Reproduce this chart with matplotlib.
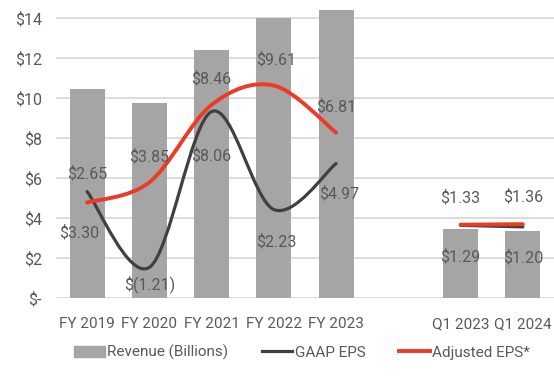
import numpy as np
import matplotlib
matplotlib.use("Agg")
import matplotlib.pyplot as plt
from matplotlib.path import Path
from matplotlib.patches import PathPatch, Patch
from matplotlib.lines import Line2D

plt.rcParams['font.family'] = ['Roboto', 'DejaVu Sans']

categories = ['FY 2019', 'FY 2020', 'FY 2021', 'FY 2022', 'FY 2023', '', 'Q1 2023', 'Q1 2024']
revenue = [10.48, 9.78, 12.42, 14.0, 14.4, np.nan, 3.45, 3.37]
gaap_eps = [3.30, -1.21, 8.06, 2.23, 4.97, np.nan, 1.29, 1.20]
adj_eps = [2.65, 3.85, 8.46, 9.61, 6.81, np.nan, 1.33, 1.36]

gaap_labels = ['$3.30', '$(1.21)', '$8.06', '$2.23', '$4.97', '', '$1.29', '$1.20']
adj_labels = ['$2.65', '$3.85', '$8.46', '$9.61', '$6.81', '', '$1.33', '$1.36']

# label offsets in pixels (dx, dy) from each point
gaap_offsets = [(-8, -41), (0, -17), (0, -44), (2, -32), (3, -30), None, (0, -31), (0, -31)]
adj_offsets = [(0, 29), (0, 26), (0, 26), (2, 26), (0, 26), None, (0, 27), (0, 27)]

BAR = '#A5A5A5'
GAAP = '#404040'
ADJ = '#EE3A24'
TXT = '#595959'
GRID = '#D9D9D9'
FS = 11.5
FS_SMALL = 11


def smooth_path(xs, ys):
    # Catmull-Rom style cubic Bezier through the points
    verts = [(xs[0], ys[0])]
    codes = [Path.MOVETO]
    n = len(xs)
    for i in range(n - 1):
        p0 = np.array([xs[max(i - 1, 0)], ys[max(i - 1, 0)]])
        p1 = np.array([xs[i], ys[i]])
        p2 = np.array([xs[i + 1], ys[i + 1]])
        p3 = np.array([xs[min(i + 2, n - 1)], ys[min(i + 2, n - 1)]])
        c1 = p1 + (p2 - p0) / 6
        c2 = p2 - (p3 - p1) / 6
        verts += [tuple(c1), tuple(c2), tuple(p2)]
        codes += [Path.CURVE4] * 3
    return Path(verts, codes)


def draw_series(ax, values, color, lw, z):
    x = np.arange(len(values))
    v = np.array(values, dtype=float)
    seg = []
    for i in range(len(v) + 1):
        if i < len(v) and not np.isnan(v[i]):
            seg.append(i)
        else:
            if len(seg) > 1:
                p = smooth_path(x[seg], v[seg])
                ax.add_patch(PathPatch(p, facecolor='none', edgecolor=color, lw=lw,
                                       capstyle='round', zorder=z))
            seg = []


fig = plt.figure(figsize=(5.54, 3.76), dpi=100)
ax = fig.add_axes([0.101, 0.208, 0.899, 0.767])
x = np.arange(len(categories))

ax.bar(x, revenue, width=0.56, color=BAR, zorder=2)
ax.set_xlim(-0.5, len(categories) - 0.5)
ax.set_ylim(0, 14.45)
ax.set_yticks(range(0, 15, 2))
ax.set_yticklabels(['$-'] + ['$%d' % v for v in range(2, 15, 2)])
ax.set_xticks([i for i in x if categories[i]])
ax.set_xticklabels([c for c in categories if c])
ax.grid(axis='y', color=GRID, lw=1.3, zorder=0)
ax.tick_params(length=0, labelsize=FS, colors=TXT, pad=10)
ax.tick_params(axis='x', pad=14, labelsize=FS_SMALL)
for s in ax.spines.values():
    s.set_visible(False)

# EPS lines on a hidden secondary scale
ax2 = ax.twinx()
ax2.set_ylim(-3.02, 14.14)
ax2.axis('off')
draw_series(ax2, gaap_eps, GAAP, 2.3, 3)
draw_series(ax2, adj_eps, ADJ, 2.8, 4)

for i in x:
    if gaap_offsets[i] is not None:
        ax2.annotate(gaap_labels[i], (i, gaap_eps[i]), xytext=gaap_offsets[i],
                     textcoords='offset pixels', ha='center', va='center',
                     fontsize=FS, color=TXT, zorder=5)
    if adj_offsets[i] is not None:
        ax2.annotate(adj_labels[i], (i, adj_eps[i]), xytext=adj_offsets[i],
                     textcoords='offset pixels', ha='center', va='center',
                     fontsize=FS, color=TXT, zorder=5)

handles = [Patch(color=BAR), Line2D([], [], color=GAAP, lw=2.3),
           Line2D([], [], color=ADJ, lw=2.8)]
fig.legend(handles, ['Revenue (Billions)', 'GAAP EPS', 'Adjusted EPS*'],
           loc='center', bbox_to_anchor=(0.545, 0.063), ncol=3, frameon=False,
           fontsize=FS_SMALL, labelcolor=TXT, handlelength=2.0, handletextpad=0.15,
           columnspacing=2.2)

fig.savefig('out.png', dpi=100)
